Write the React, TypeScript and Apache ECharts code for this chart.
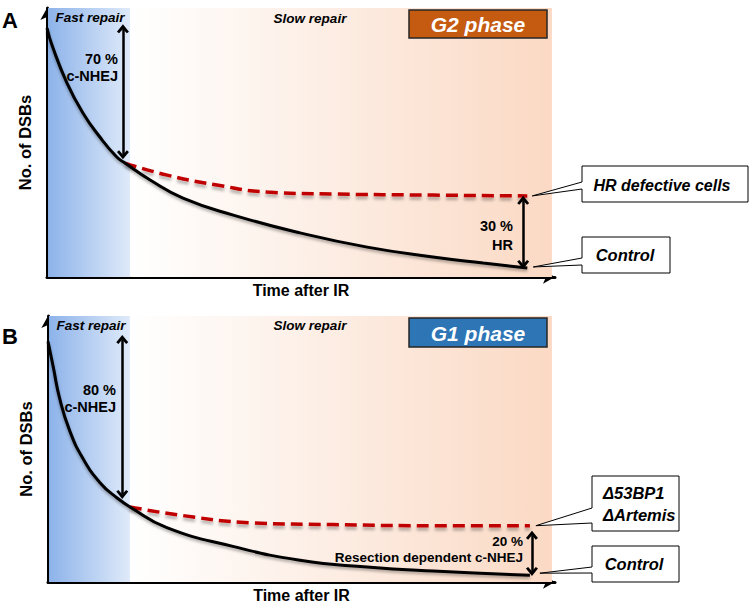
import React, { useEffect, useRef } from "react";
import * as echarts from "echarts";

// Panel A (G2 phase): time (a.u.) vs No. of DSBs (a.u.)
const controlA: number[][] = [
  [0, 90.9], [1.0, 84.5], [3.9, 70.8], [7.0, 59.9], [10.3, 51.1], [13.6, 43.8], [15.2, 41.6],
  [20.1, 35.4], [26.5, 28.8], [36.3, 22.6], [49.3, 16.1], [62.4, 10.9], [75.2, 7.3], [85.0, 5.1], [93.6, 3.3],
];
const hrDefectiveA: number[][] = [
  [15.2, 41.6], [23.4, 37.2], [33.1, 33.6], [42.9, 31.0], [55.8, 30.3], [75.2, 29.9], [93.6, 29.6],
];
// Panel B (G1 phase)
const controlB: number[][] = [
  [0, 88.4], [1.0, 79.3], [2.3, 67.3], [4.3, 55.3], [6.8, 45.5], [10.2, 36.4], [13.5, 30.9], [16.0, 27.6],
  [23.2, 20.0], [36.1, 13.1], [49.2, 8.0], [62.3, 5.5], [75.2, 4.0], [94.1, 2.5],
];
const mutantB: number[][] = [
  [16.0, 27.6], [26.4, 24.4], [39.5, 21.8], [55.7, 21.1], [75.2, 20.7], [94.1, 20.7],
];
// repair phase boundaries (time units)
const fastRepairEndA = 16.2;
const fastRepairEndB = 16.0;
const slowRepairEnd = 98.4;
const xMax = 99;
const yMaxA = 98.2;
const yMaxB = 97.8;
// double-arrow annotations [x, yTop, yBottom]
const arrowNhejA = [14.8, 90.6, 44.6];
const arrowHrA = [92.8, 28.0, 4.6];
const arrowNhejB = [14.5, 89.2, 32.2];
const arrowResB = [94.5, 17.2, 3.9];

const FONT = "'Liberation Sans', Arial, Helvetica, sans-serif";
const CHEV = "path://M5,0L10,7L8.2,8.6L5,4.4L1.8,8.6L0,7Z";

function shade(x0: number, x1: number, yTop: number, blue: boolean) {
  const color = blue
    ? { type: "linear", x: 0, y: 0, x2: 1, y2: 0, colorStops: [
        { offset: 0, color: "#8db3ea" }, { offset: 1, color: "#dfeaf9" } ] }
    : { type: "linear", x: 0, y: 0, x2: 1, y2: 0, colorStops: [
        { offset: 0, color: "#ffffff" }, { offset: 0.35, color: "#fdf2eb" }, { offset: 1, color: "#fbd9c4" } ] };
  return [{ coord: [x0, 0], itemStyle: { color } }, { coord: [x1, yTop] }];
}

function dblArrow(a: number[]) {
  return [{ coord: [a[0], a[1]] }, { coord: [a[0], a[2]] }];
}

const arrowMark = (items: number[][]) => ({
  silent: true,
  symbol: [CHEV, CHEV],
  symbolSize: [12, 9],
  lineStyle: { color: "#000", width: 2.5, type: "solid" },
  label: { show: false },
  emphasis: { disabled: true },
  data: items.map(dblArrow),
});

const blackLine = { color: "#000", width: 3, shadowColor: "rgba(0,0,0,0.35)", shadowBlur: 3, shadowOffsetY: 2 };
const redLine = { color: "#c00000", width: 3.5, type: [12, 6], shadowColor: "rgba(0,0,0,0.3)", shadowBlur: 3, shadowOffsetY: 3 };

export default function App() {
  const ref = useRef<HTMLDivElement>(null);
  useEffect(() => {
    document.body.style.margin = "0";
    const chart = echarts.init(ref.current!, null, { renderer: "svg" });
    const axisX = (gi: number) => ({
      type: "value", gridIndex: gi, min: 0, max: xMax,
      name: "Time after IR", nameLocation: "middle", nameGap: 5,
      nameTextStyle: { fontFamily: FONT, fontWeight: "bold", fontSize: 16, color: "#000", verticalAlign: "top" },
      axisLine: { show: true, onZero: false, symbol: ["none", "arrow"], symbolSize: [10, 12], lineStyle: { color: "#000", width: 3 } },
      axisTick: { show: false }, axisLabel: { show: false }, splitLine: { show: false },
    });
    const axisY = (gi: number, max: number) => ({
      type: "value", gridIndex: gi, min: 0, max,
      name: "No. of DSBs", nameLocation: "middle", nameGap: 14,
      nameTextStyle: { fontFamily: FONT, fontWeight: "bold", fontSize: 16.5, color: "#000" },
      axisLine: { show: true, onZero: false, symbol: ["none", "arrow"], symbolSize: [10, 12], lineStyle: { color: "#000", width: 3 } },
      axisTick: { show: false }, axisLabel: { show: false }, splitLine: { show: false },
    });
    const curve = (name: string, gi: number, data: number[][], z: number, lineStyle: any, extra: any = {}) => ({
      type: "line", name, xAxisIndex: gi, yAxisIndex: gi, z, data, symbol: "none", smooth: 0.5, lineStyle, ...extra,
    });
    chart.setOption({
      animation: false,
      grid: [
        { left: 47, top: 8, width: 508, height: 269 },
        { left: 48, top: 316, width: 507, height: 269 },
      ],
      xAxis: [axisX(0), axisX(1)],
      yAxis: [axisY(0, yMaxA), axisY(1, yMaxB)],
      series: [
        {
          type: "line", xAxisIndex: 0, yAxisIndex: 0, z: 1, data: [[0, 0]], symbol: "none",
          lineStyle: { opacity: 0 }, silent: true,
          markArea: { silent: true, data: [shade(0.2, fastRepairEndA, yMaxA, true), shade(fastRepairEndA, slowRepairEnd, yMaxA, false)] },
        },
        {
          type: "line", xAxisIndex: 1, yAxisIndex: 1, z: 1, data: [[0, 0]], symbol: "none",
          lineStyle: { opacity: 0 }, silent: true,
          markArea: { silent: true, data: [shade(0.2, fastRepairEndB, yMaxB, true), shade(fastRepairEndB, slowRepairEnd, yMaxB, false)] },
        },
        curve("HR defective cells", 0, hrDefectiveA, 4, redLine),
        curve("Control", 0, controlA, 5, blackLine, { markLine: arrowMark([arrowNhejA, arrowHrA]) }),
        curve("Δ53BP1 ΔArtemis", 1, mutantB, 4, redLine),
        curve("Control", 1, controlB, 5, blackLine, { markLine: arrowMark([arrowNhejB, arrowResB]) }),
      ],
    });

    const px = (gi: number, p: number[]) => chart.convertToPixel({ gridIndex: gi }, p) as number[];
    const txt = (text: string, x: number, y: number, size: number, opts: any = {}) => ({
      type: "text", silent: true, z: 20,
      style: { text, x, y, font: `${opts.italic ? "italic " : ""}bold ${size}px ${FONT}`, fill: opts.fill || "#000",
        textAlign: opts.align || "center", textVerticalAlign: "middle" },
    });
    const callout = (tip: number[], box: number[], w1: number, w2: number) => {
      const [l, t, r, b] = box;
      return {
        type: "polygon", silent: true, z: 15,
        shape: { points: [tip, [l, w2], [l, b], [r, b], [r, t], [l, t], [l, w1]] },
        style: { fill: "#fff", stroke: "#000", lineWidth: 1 },
      };
    };
    const tipHr = px(0, hrDefectiveA[hrDefectiveA.length - 1]);
    const tipCa = px(0, controlA[controlA.length - 1]);
    const tipMu = px(1, mutantB[mutantB.length - 1]);
    const tipCb = px(1, controlB[controlB.length - 1]);

    chart.setOption({
      graphic: [
        txt("A", 10, 20, 22),
        txt("B", 10, 336, 22),
        txt("Fast repair", 90, 17, 13.5, { italic: true }),
        txt("Slow repair", 310, 18, 13.5, { italic: true }),
        txt("Fast repair", 91, 325, 13.5, { italic: true }),
        txt("Slow repair", 310, 325, 13.5, { italic: true }),
        { type: "rect", z: 15, silent: true, shape: { x: 409, y: 10, width: 138, height: 28 }, style: { fill: "#c55a11", stroke: "#262626", lineWidth: 1.5 } },
        txt("G2 phase", 478, 24.5, 21, { italic: true, fill: "#fff" }),
        { type: "rect", z: 15, silent: true, shape: { x: 409, y: 318, width: 138, height: 29 }, style: { fill: "#2e75b6", stroke: "#262626", lineWidth: 1.5 } },
        txt("G1 phase", 478, 333, 21, { italic: true, fill: "#fff" }),
        txt("70 %", 118, 59, 14.5, { align: "right" }),
        txt("c-NHEJ", 118, 76, 14.5, { align: "right" }),
        txt("30 %", 513, 226, 14.5, { align: "right" }),
        txt("HR", 513, 245, 14.5, { align: "right" }),
        txt("80 %", 116, 390, 14.5, { align: "right" }),
        txt("c-NHEJ", 116, 407, 14.5, { align: "right" }),
        txt("20 %", 523, 541, 13.5, { align: "right" }),
        txt("Resection dependent c-NHEJ", 523, 557, 13.5, { align: "right" }),
        callout([tipHr[0] + 5, tipHr[1]], [582, 166, 748, 202], 182, 189),
        txt("HR defective cells", 662, 185, 16, { italic: true }),
        callout([tipCa[0] + 6, tipCa[1] - 1], [582, 237, 670, 273], 258, 265),
        txt("Control", 625, 255, 16.5, { italic: true }),
        callout([tipMu[0] + 6, tipMu[1]], [592, 476, 679, 531], 508, 523),
        txt("Δ53BP1", 603, 493, 16.5, { italic: true, align: "left" }),
        txt("ΔArtemis", 603, 515, 16.5, { italic: true, align: "left" }),
        callout([tipCb[0] + 10, tipCb[1] - 2], [592, 546, 679, 582], 567, 573),
        txt("Control", 634, 564, 16.5, { italic: true }),
      ],
    });
    return () => chart.dispose();
  }, []);
  return <div ref={ref} style={{ width: 750, height: 604 }} />;
}
